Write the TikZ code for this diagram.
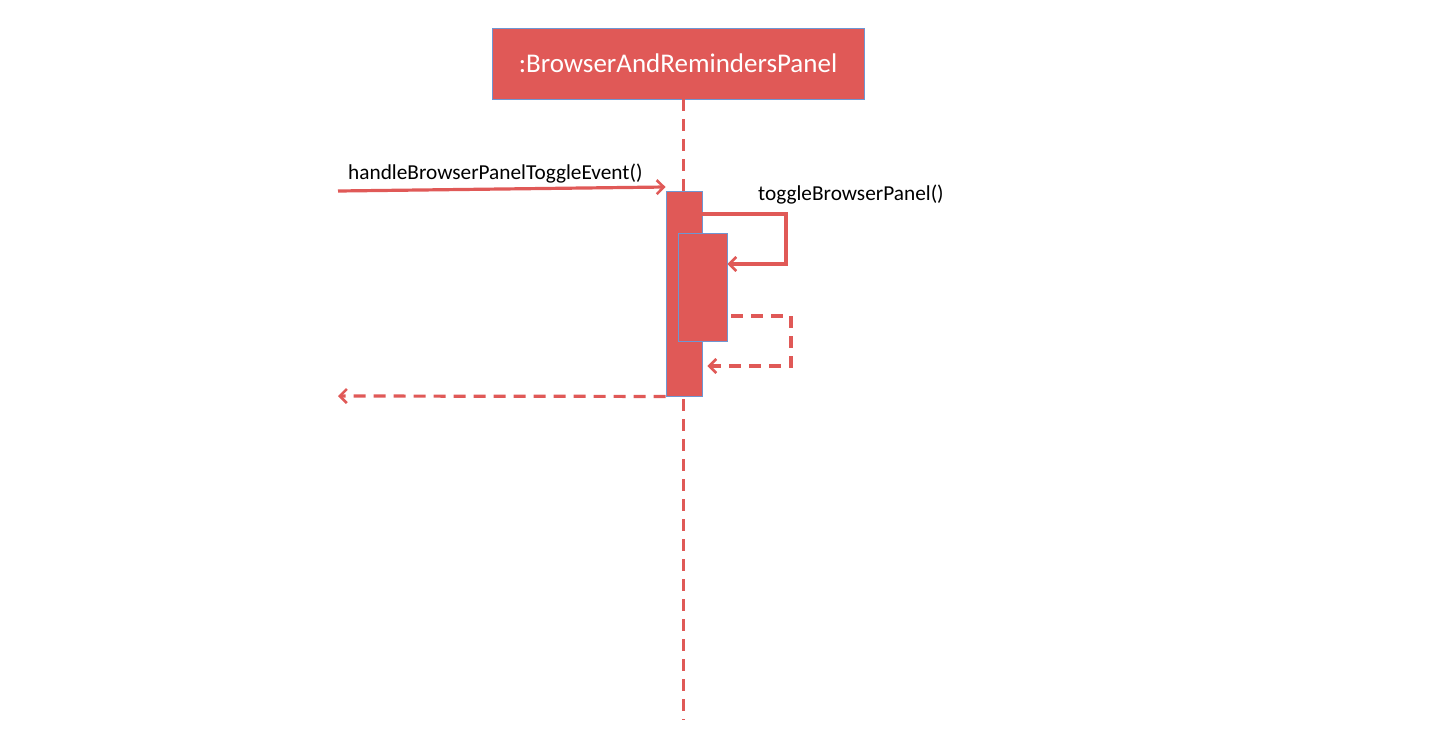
\documentclass[tikz,border=0pt]{standalone}
\usepackage{fontspec}
\setmainfont{Carlito}
\usetikzlibrary{arrows.meta}
\definecolor{umlred}{RGB}{224,89,87}
\definecolor{umlblue}{RGB}{110,150,210}
\tikzset{
  msg/.style={draw=umlred, line width=3.2pt, -{Straight Barb[length=7pt,width=14pt,line width=2.6pt]}},
  ret/.style={msg, dash pattern=on 12pt off 8pt},
  lifeline/.style={draw=umlred, line width=3pt, dash pattern=on 12pt off 8pt},
  actbar/.style={draw=umlblue, line width=0.9pt, fill=umlred, inner sep=0pt},
  lbl/.style={font=\fontsize{21.3}{24}\selectfont, text=black, inner sep=0pt}
}
\begin{document}
\begin{tikzpicture}[x=1pt,y=-1pt]
\useasboundingbox (0,0) rectangle (1431,753);
% header
\node[actbar, minimum width=372pt, minimum height=71pt, text=white,
      font=\fontsize{27}{32}\selectfont] (hdr) at (678,63.5) {:BrowserAndRemindersPanel};
\coordinate (lltop) at (683,99);
\coordinate (llbot) at (683,720);
\draw[lifeline] (lltop) -- (llbot);
% activation bars
\node[actbar, minimum width=36pt, minimum height=205pt] (act1) at (684,293.5) {};
\node[actbar, minimum width=49pt, minimum height=108pt] (act2) at (702.5,287) {};
% incoming message
\coordinate (src) at (338,191);
\draw[msg] (src) -- (act1.north west |- 0,187);
\node[lbl, anchor=base west] (l1) at (348,179) {handleBrowserPanelToggleEvent()};
% self call
\draw[msg] (act1.east |- 0,214) -- (786,214) -- (786,264) -- (act2.east |- 0,264);
\node[lbl, anchor=base west] (l2) at (758,200) {toggleBrowserPanel()};
% self return
\draw[ret] (act2.east |- 0,316) ++(4,0) -- (791,316) -- (791,366) -- ([xshift=5pt]act1.east |- 0,366);
% return
\coordinate (dst) at (338,396);
\draw[ret] (act1.south west) -- (dst);
\end{tikzpicture}
\end{document}
